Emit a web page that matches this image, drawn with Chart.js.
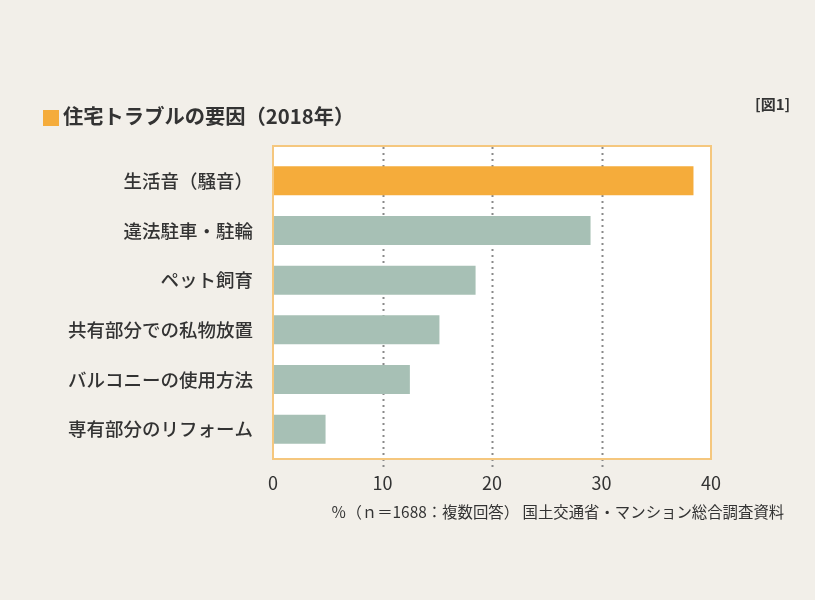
<!DOCTYPE html>
<html lang="ja">
<head>
<meta charset="utf-8">
<script src="https://cdn.jsdelivr.net/npm/chart.js@4"></script>
<style>
  body { margin: 0; background: #f2efe9; }
  #wrap { position: relative; width: 815px; height: 600px; font-family: "Noto Sans CJK JP", "Noto Sans", sans-serif; color: #333; }
  #chart { position: absolute; left: 0; top: 0; }
  .title { position: absolute; left: 43px; top: 102px; font-size: 20.3px; font-weight: bold; line-height: 26px; white-space: nowrap; }
  .title .mark { display: inline-block; width: 16px; height: 16px; background: #f5ac3b; vertical-align: -2px; margin-right: 4px; }
  .fig { position: absolute; left: 755px; top: 93px; font-size: 15px; font-weight: bold; white-space: nowrap; }
  .note { position: absolute; left: 331px; top: 500px; font-size: 15.4px; white-space: nowrap; }
</style>
</head>
<body>
<div id="wrap">
  <canvas id="chart" width="815" height="600"></canvas>
  <div class="title"><span class="mark"></span>住宅トラブルの要因（2018年）</div>
  <div class="fig">[図1]</div>
  <div class="note">％（ｎ＝1688：複数回答）&nbsp;国土交通省・マンション総合調査資料</div>
</div>
<script>
// データ（単位：％）
const categories = ['生活音（騒音）', '違法駐車・駐輪', 'ペット飼育', '共有部分での私物放置', 'バルコニーの使用方法', '専有部分のリフォーム'];
const values = [38.4, 29.0, 18.5, 15.2, 12.5, 4.8];
const barColors = ['#f5ac3b', '#a7c0b5', '#a7c0b5', '#a7c0b5', '#a7c0b5', '#a7c0b5'];
const xTicks = [0, 10, 20, 30, 40];

// 枠（白背景＋オレンジの線）と点線のグリッド
const boxPlugin = {
  id: 'box',
  beforeDatasetsDraw(chart) {
    const { ctx, chartArea: a, scales: { x } } = chart;
    ctx.save();
    ctx.fillStyle = '#ffffff';
    ctx.fillRect(a.left, a.top - 10, a.right - a.left, a.bottom - a.top + 15);
    ctx.strokeStyle = '#8a8a8a';
    ctx.lineWidth = 2;
    ctx.setLineDash([2, 4]);
    xTicks.slice(1, -1).forEach(v => {
      const px = Math.round(x.getPixelForValue(v)) + 0.5;
      ctx.beginPath();
      ctx.moveTo(px, a.top - 9);
      ctx.lineTo(px, a.bottom + 13);
      ctx.stroke();
    });
    ctx.restore();
  },
  afterDatasetsDraw(chart) {
    const { ctx, chartArea: a } = chart;
    ctx.save();
    ctx.strokeStyle = '#f5c77e';
    ctx.lineWidth = 2;
    ctx.strokeRect(a.left, a.top - 10, a.right - a.left, a.bottom - a.top + 15);
    ctx.restore();
  }
};

new Chart(document.getElementById('chart'), {
  type: 'bar',
  data: {
    labels: categories,
    datasets: [{
      data: values,
      backgroundColor: barColors,
      borderWidth: 0,
      barPercentage: 0.585,
      categoryPercentage: 1
    }]
  },
  options: {
    indexAxis: 'y',
    responsive: false,
    animation: false,
    layout: { padding: { top: 156, bottom: 106, left: 0, right: 104 } },
    plugins: { legend: { display: false }, tooltip: { enabled: false } },
    scales: {
      x: {
        min: 0,
        max: 40,
        afterFit: s => { s.height = 40; },
        afterBuildTicks: s => { s.ticks = xTicks.map(v => ({ value: v })); },
        grid: { display: false, drawTicks: false },
        border: { display: false },
        ticks: { color: '#333', padding: 18, font: { size: 18, family: '"Noto Sans CJK JP", "Noto Sans", sans-serif' } }
      },
      y: {
        afterFit: s => { s.width = 273; },
        grid: { display: false, drawTicks: false },
        border: { display: false },
        ticks: { color: '#333', padding: 20, font: { size: 18.5, weight: '500', family: '"Noto Sans CJK JP", sans-serif' } }
      }
    }
  },
  plugins: [boxPlugin]
});
</script>
</body>
</html>
